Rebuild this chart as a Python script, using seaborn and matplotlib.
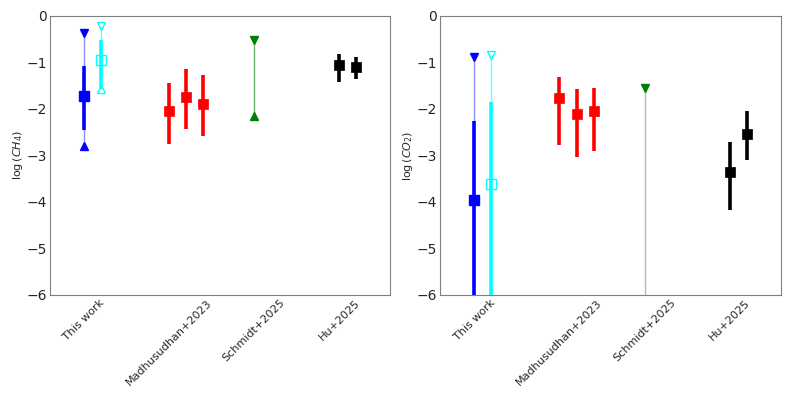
import matplotlib
matplotlib.use("Agg")
import matplotlib.pyplot as plt
import numpy as np
import pandas as pd
import seaborn as sns

# x categories
studies = ["This work", "Madhusudhan+2023", "Schmidt+2025", "Hu+2025"]

# --- log(CH4) ---
ch4_blue_med, ch4_blue_sig, ch4_blue_rng = -1.73, (-2.45, -1.08), (-2.80, -0.36)
ch4_cyan_med, ch4_cyan_sig, ch4_cyan_rng = -0.95, (-1.57, -0.52), (-1.57, -0.21)
ch4_mad_med = [-2.04, -1.74, -1.89]
ch4_mad_lo = [-2.76, -2.43, -2.59]
ch4_mad_hi = [-1.44, -1.15, -1.27]
ch4_sch_rng = (-2.16, -0.52)
ch4_hu_med = [-1.06, -1.09]
ch4_hu_lo = [-1.43, -1.35]
ch4_hu_hi = [-0.82, -0.89]

# --- log(CO2) ---  (-12 = no lower bound)
co2_blue_med, co2_blue_sig, co2_blue_rng = -3.95, (-12.0, -2.26), (-12.0, -0.89)
co2_cyan_med, co2_cyan_sig, co2_cyan_rng = -3.62, (-12.0, -1.86), (-12.0, -0.84)
co2_mad_med = [-1.76, -2.10, -2.05]
co2_mad_lo = [-2.78, -3.04, -2.90]
co2_mad_hi = [-1.31, -1.58, -1.56]
co2_sch_rng = (-12.0, -1.56)
co2_hu_med = [-3.36, -2.53]
co2_hu_lo = [-4.17, -3.09]
co2_hu_hi = [-2.71, -2.05]

sns.set_style("white")
plt.rcParams["font.family"] = ["DejaVu Sans"]

fig = plt.figure(figsize=(7.93, 3.97), dpi=100)
ax1 = fig.add_axes([0.063, 0.257, 0.429, 0.703])
ax2 = fig.add_axes([0.555, 0.257, 0.430, 0.703])

dx = 0.2


def draw_work(ax, x, med, sig, rng, col, filled, show_low):
    fc = col if filled else "none"
    ax.vlines(x, rng[0], rng[1], color=col, lw=1.0, alpha=0.45 if filled else 0.6, zorder=2)
    ax.vlines(x, sig[0], sig[1], color=col, lw=2.6, zorder=3)
    ax.plot(x, rng[1], marker="v", ms=6, color=col, mfc=fc, mew=1, zorder=4)
    if show_low:
        ax.plot(x, rng[0], marker="^", ms=6, color=col, mfc=fc, mew=1, zorder=4)
    ax.plot(x, med, marker="s", ms=7, color=col, mfc=fc, mew=1, zorder=5)


def draw_group(ax, x0, med, lo, hi, col):
    xs = x0 + dx * np.arange(len(med))
    ax.vlines(xs, lo, hi, color=col, lw=2.6, zorder=3)
    d = pd.DataFrame({"x": xs, "y": med})
    sns.scatterplot(data=d, x="x", y="y", ax=ax, marker="s", s=55, color=col,
                    edgecolor=col, linewidth=0.5, zorder=5, legend=False)


def draw_range(ax, x, rng, col, alpha, show_low):
    ax.vlines(x, rng[0], rng[1], color=col, lw=1.0, alpha=alpha, zorder=2)
    ax.plot(x, rng[1], marker="v", ms=6, color=col, zorder=4)
    if show_low:
        ax.plot(x, rng[0], marker="^", ms=6, color=col, zorder=4)


# CH4 panel
draw_work(ax1, 0, ch4_blue_med, ch4_blue_sig, ch4_blue_rng, "blue", True, True)
draw_work(ax1, dx, ch4_cyan_med, ch4_cyan_sig, ch4_cyan_rng, "cyan", False, True)
draw_group(ax1, 1, ch4_mad_med, ch4_mad_lo, ch4_mad_hi, "red")
draw_range(ax1, 2, ch4_sch_rng, "green", 0.6, True)
draw_group(ax1, 3, ch4_hu_med, ch4_hu_lo, ch4_hu_hi, "black")

# CO2 panel
draw_work(ax2, 0, co2_blue_med, co2_blue_sig, co2_blue_rng, "blue", True, False)
draw_work(ax2, dx, co2_cyan_med, co2_cyan_sig, co2_cyan_rng, "cyan", False, False)
draw_group(ax2, 1, co2_mad_med, co2_mad_lo, co2_mad_hi, "red")
draw_range(ax2, 2, co2_sch_rng, "green", 0.4, False)
draw_group(ax2, 3, co2_hu_med, co2_hu_lo, co2_hu_hi, "black")

for ax, lab in [(ax1, r"log$\,(CH_4)$"), (ax2, r"log$\,(CO_2)$")]:
    ax.set_xlim(-0.4, 3.6)
    ax.set_ylim(-6, 0)
    ax.set_xticks(range(len(studies)))
    ax.set_xticklabels(studies, rotation=45, ha="center", fontsize=8)
    ax.set_yticks(range(-6, 1))
    ax.tick_params(axis="y", labelsize=10, direction="in", length=3, color="gray", pad=2)
    ax.tick_params(axis="x", direction="in", length=3, color="gray", pad=2)
    ax.set_xlabel("")
    ax.set_ylabel(lab, fontsize=8, labelpad=1)
    for s in ax.spines.values():
        s.set_color("gray")
        s.set_linewidth(0.8)

fig.savefig("out.png", dpi=100)
